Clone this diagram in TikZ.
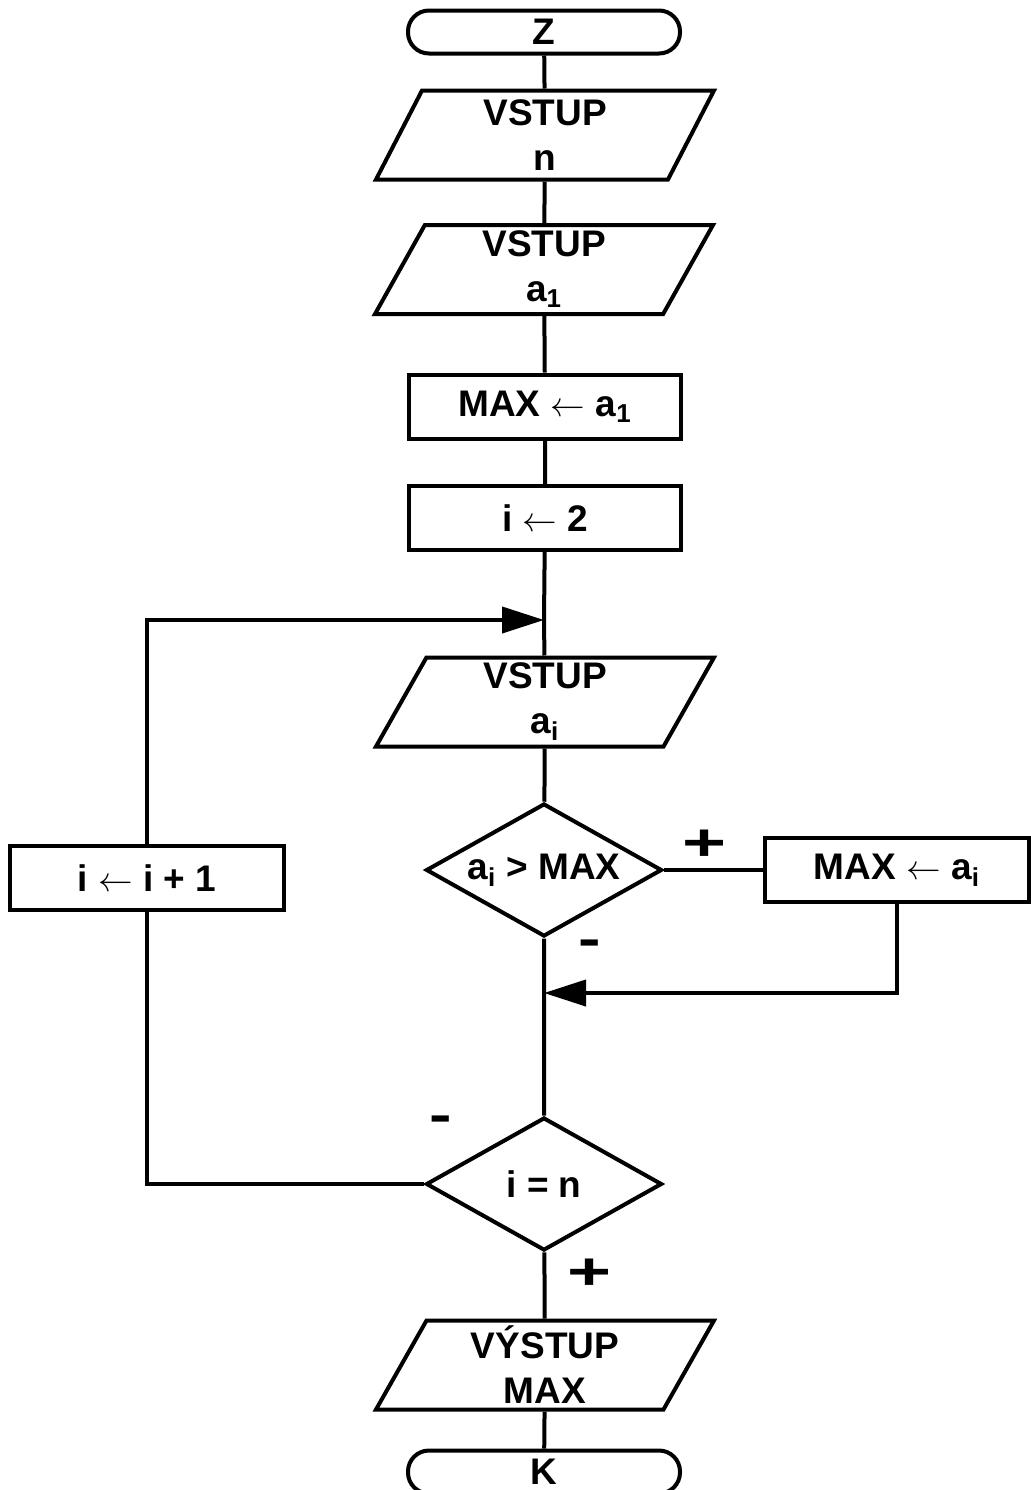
\documentclass[tikz,border=0pt]{standalone}
\usepackage{fontspec}
\setmainfont{Liberation Sans}
\usepackage{graphicx}
\usetikzlibrary{arrows.meta, shapes.geometric, positioning}

\tikzset{
  flow/.style={draw, line width=2pt, font=\bfseries\fontsize{18.5}{22.5}\selectfont,
    inner sep=0pt, align=center},
  term/.style={flow, rectangle, rounded corners=10.5pt, minimum width=136pt, minimum height=21.5pt},
  proc/.style={flow, rectangle, minimum width=136pt, minimum height=32pt},
  io/.style={flow, trapezium, trapezium left angle=57, trapezium right angle=123,
    trapezium stretches body, minimum width=169pt, minimum height=44.5pt},
  test/.style={flow, diamond, aspect=1.77, minimum width=118pt, minimum height=66.5pt},
  sign/.style={font=\bfseries\fontsize{26}{26}\selectfont, inner sep=0pt},
  conn/.style={line width=2pt},
  arr/.style={conn, -{Triangle[length=21pt,width=13pt]}},
}

\begin{document}
\begin{tikzpicture}[x=0.5pt, y=-0.5pt]
  \useasboundingbox (0,0) rectangle (1031,1490);
  % main column
  \node[term] (start) at (544,32) {Z};
  \node[io] (inN) at (545,135) {VSTUP\\n};
  \node[io] (inA1) at (544,269.5) {VSTUP\\a\textsubscript{1}};
  \node[proc] (setMax) at (545,406.5) {MAX $\leftarrow$ a\textsubscript{1}};
  \node[proc] (setI) at (545,518) {i $\leftarrow$ 2};
  \coordinate (loopIn) at (544,620);
  \node[io] (inAi) at (545,702) {VSTUP\\a\textsubscript{i}};
  \node[test] (cmpMax) at (544,870) {a\textsubscript{i} > MAX};
  \node[proc, minimum width=132pt] (newMax) at (897,870) {MAX $\leftarrow$ a\textsubscript{i}};
  \coordinate (join) at (544,993);
  \node[test] (cmpN) at (544,1184) {i = n};
  \node[proc, minimum width=137pt] (incI) at (147,878) {i $\leftarrow$ i + 1};
  \node[io] (outMax) at (545,1365) {VÝSTUP\\MAX};
  \node[term] (stop) at (544,1472) {K};
  % connectors
  \draw[conn] (start) -- (inN) -- (inA1) -- (setMax) -- (setI) -- (loopIn) -- (inAi) -- (cmpMax);
  \draw[conn] (cmpMax) -- (cmpN) -- (outMax) -- (stop);
  \draw[conn] (cmpMax.east) -- (newMax.west);
  \draw[arr] (newMax.south) |- (join);
  \draw[conn] (cmpN.west) -| (incI.south);
  \draw[arr] (incI.north) |- (loopIn);
  % branch signs
  \node[sign] (yes1) at (705,845) {\scalebox{1.45}[1]{+}};
  \node[sign] (no1) at (590,948) {\scalebox{1.3}[1]{-}};
  \node[sign] (no2) at (441,1124) {\scalebox{1.3}[1]{-}};
  \node[sign] (yes2) at (590,1274) {\scalebox{1.45}[1]{+}};
\end{tikzpicture}
\end{document}
